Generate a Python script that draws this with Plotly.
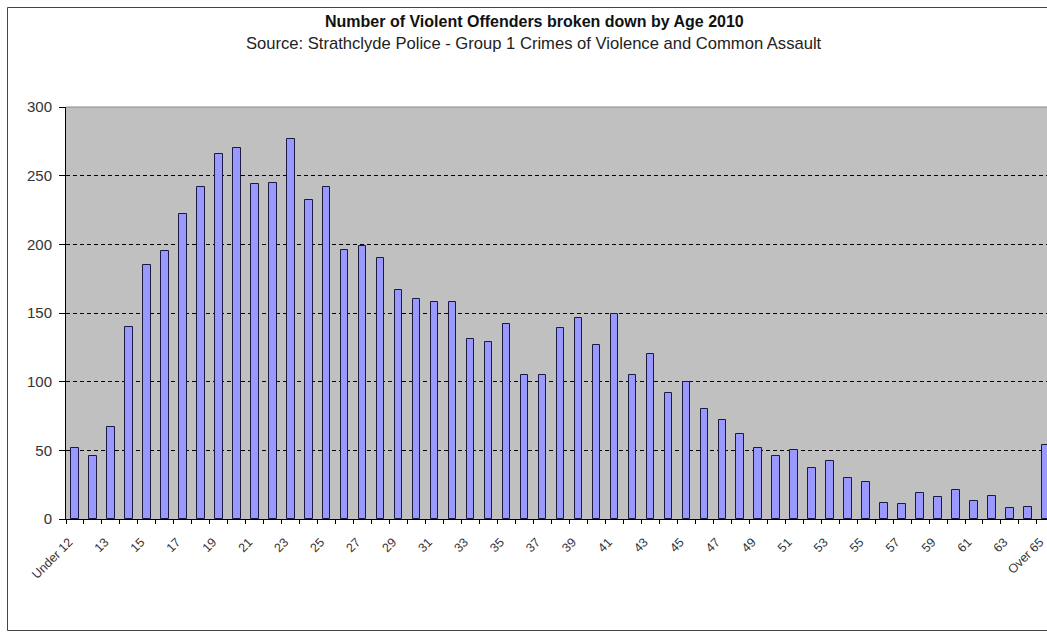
import plotly.graph_objects as go

# Age groups (x categories) and number of violent offenders in each
age_groups = [
    "Under 12", "12", "13", "14", "15", "16", "17", "18", "19", "20",
    "21", "22", "23", "24", "25", "26", "27", "28", "29", "30",
    "31", "32", "33", "34", "35", "36", "37", "38", "39", "40",
    "41", "42", "43", "44", "45", "46", "47", "48", "49", "50",
    "51", "52", "53", "54", "55", "56", "57", "58", "59", "60",
    "61", "62", "63", "64", "Over 65",
]
offenders = [
    52, 46, 67, 140, 185, 195, 222, 242, 266, 270,
    244, 245, 277, 232, 242, 196, 199, 190, 167, 160,
    158, 158, 131, 129, 142, 105, 105, 139, 146, 127,
    149, 105, 120, 92, 100, 80, 72, 62, 52, 46,
    50, 37, 42, 30, 27, 12, 11, 19, 16, 21,
    13, 17, 8, 9, 54,
]
y_ticks = [0, 50, 100, 150, 200, 250, 300]

FONT = "Liberation Sans, Arial, sans-serif"

W, H = 1047, 632
ML, MR, MT, MB = 66, 0, 107, 113
PW, PH = W - ML - MR, H - MT - MB


def px_to_paper_x(px):
    return (px - ML) / PW


def px_to_paper_y(py):
    return (H - MB - py) / PH


positions = list(range(len(age_groups)))

fig = go.Figure(
    go.Bar(
        x=positions,
        y=offenders,
        width=0.42,
        marker=dict(color="#9999ff", line=dict(color="#1a1a40", width=1)),
        hovertext=age_groups,
    )
)

label_idx = positions[::2]

fig.update_layout(
    width=W,
    height=H,
    margin=dict(l=ML, r=MR, t=MT, b=MB, pad=0),
    paper_bgcolor="white",
    plot_bgcolor="#c0c0c0",
    showlegend=False,
    bargap=0,
    font=dict(family=FONT, size=12, color="#222"),
    xaxis=dict(
        range=[-0.5, 54.06],
        tickmode="array",
        tickvals=label_idx,
        ticktext=[age_groups[i] for i in label_idx],
        tickangle=-45,
        ticks="outside",
        ticklen=0,
        ticklabelstandoff=10,
        ticklabelshift=-6,
        ticklabeloverflow="allow",
        showgrid=False,
        zeroline=False,
        showline=True,
        linecolor="black",
        linewidth=1,
        tickfont=dict(family=FONT, size=12.5, color="#333"),
        minor=dict(
            tickmode="array",
            tickvals=[i - 0.5 for i in range(len(age_groups) + 1)],
            ticks="outside",
            ticklen=4,
            tickcolor="black",
            showgrid=False,
        ),
    ),
    yaxis=dict(
        range=[0, 300],
        tickmode="array",
        tickvals=y_ticks,
        ticks="outside",
        ticklen=6,
        tickcolor="black",
        ticklabelstandoff=4,
        showgrid=True,
        gridcolor="black",
        gridwidth=1,
        griddash="4px,3px",
        zeroline=False,
        showline=True,
        linecolor="black",
        linewidth=1,
        tickfont=dict(family=FONT, size=15, color="#333"),
    ),
    shapes=[
        # plot-area top border
        dict(type="line", xref="paper", yref="paper", x0=0, x1=1, y0=1, y1=1,
             line=dict(color="#8a8a8a", width=1), layer="above"),
        # chart-area frame
        dict(type="rect", xref="paper", yref="paper",
             x0=px_to_paper_x(7.5), x1=px_to_paper_x(1060),
             y0=px_to_paper_y(630.5), y1=px_to_paper_y(7.5),
             line=dict(color="#444", width=1), fillcolor="rgba(0,0,0,0)",
             layer="below"),
    ],
    annotations=[
        dict(text="<b>Number of Violent Offenders broken down by Age 2010</b>",
             xref="paper", yref="paper", x=px_to_paper_x(534), y=px_to_paper_y(22),
             xanchor="center", yanchor="middle", showarrow=False,
             font=dict(family=FONT, size=16, color="#111")),
        dict(text="Source: Strathclyde Police - Group 1 Crimes of Violence and Common Assault",
             xref="paper", yref="paper", x=px_to_paper_x(534), y=px_to_paper_y(44),
             xanchor="center", yanchor="middle", showarrow=False,
             font=dict(family=FONT, size=16.6, color="#222")),
    ],
)

fig.write_html("out.html")
